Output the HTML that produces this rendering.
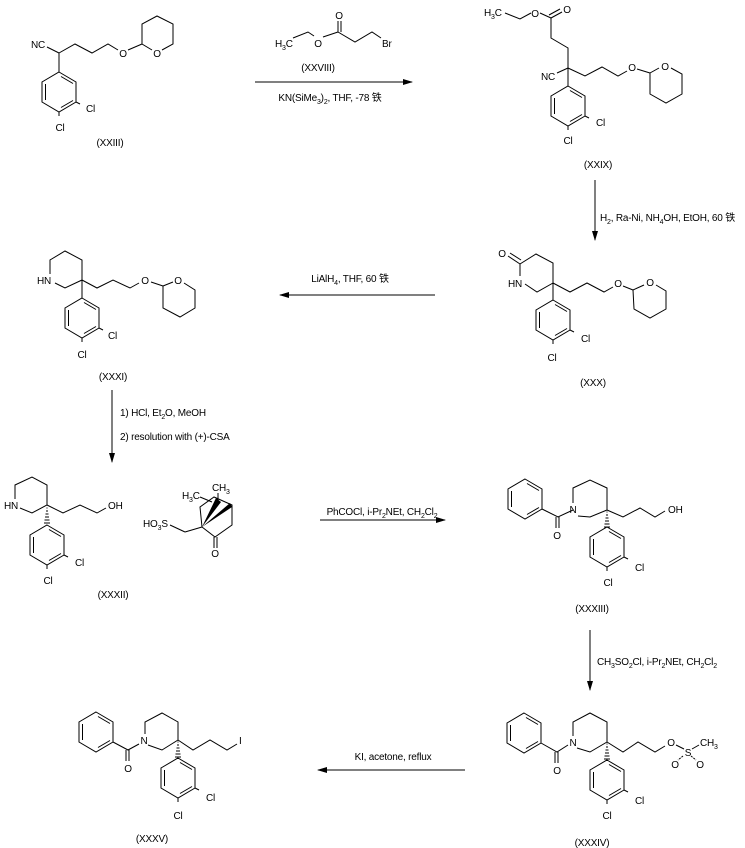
<!DOCTYPE html>
<html><head><meta charset="utf-8"><style>
html,body{margin:0;padding:0;background:#fff;}
svg{display:block;}
text{font-family:"Liberation Sans","Noto Sans CJK SC",sans-serif;font-size:10px;letter-spacing:-0.2px;fill:#000;}
.m{text-anchor:middle;}
.s{font-size:7px;}
</style></head><body>
<svg width="745" height="848" viewBox="0 0 745 848" xmlns="http://www.w3.org/2000/svg">
<defs>
<g id="ar" fill="none" stroke="#000" stroke-width="1">
<polygon points="0,0 17,10 17,30 0,40 -17,30 -17,10"/>
<line x1="-13.5" y1="12" x2="-13.5" y2="28"/>
<line x1="2" y1="4.5" x2="14" y2="11.5"/>
<line x1="14" y1="28.5" x2="2" y2="35.5"/>
</g>
<g id="arcl" fill="none" stroke="#000" stroke-width="1">
<use href="#ar"/>
<line x1="17" y1="30" x2="21" y2="32"/>
<line x1="0" y1="40" x2="0" y2="44"/>
</g>
<g id="hw" stroke="#000" stroke-width="1">
<line x1="-0.5" y1="2" x2="0.5" y2="2"/><line x1="-1" y1="5" x2="1" y2="5"/><line x1="-1.5" y1="8" x2="1.5" y2="8"/><line x1="-2" y1="11" x2="2" y2="11"/><line x1="-2.5" y1="14" x2="2.5" y2="14"/><line x1="-3" y1="17" x2="3" y2="17"/>
</g>
<marker id="ah" markerWidth="10" markerHeight="6" refX="9" refY="3" orient="auto" markerUnits="userSpaceOnUse"><path d="M0,0 L10,3 L0,6 Z" fill="#000"/></marker>
</defs>
<g fill="none" stroke="#000" stroke-width="1">
<!-- XXIII -->
<line x1="47" y1="47" x2="59" y2="53"/>
<polyline points="59,53 75,44 92,53 108,44 118,50"/>
<line x1="128" y1="50" x2="142" y2="44"/>
<polyline points="152,50 142,44 142,24 157,16 173,24 173,44 162,50"/>
<line x1="59" y1="53" x2="59" y2="72"/>
<use href="#arcl" x="59" y="72"/>
<!-- XXVIII -->
<polyline points="293,38 308,32 314,36"/>
<line x1="323" y1="37" x2="338" y2="32"/>
<line x1="338" y1="32" x2="338" y2="21"/><line x1="341" y1="32" x2="341" y2="21"/>
<polyline points="338,32 355,42 372,32 381,38"/>
<line x1="255" y1="82" x2="412" y2="82" marker-end="url(#ah)"/>
<!-- XXIX -->
<polyline points="505,13 520,19 531,13"/>
<line x1="540" y1="13" x2="551" y2="18"/>
<line x1="551" y1="18" x2="562" y2="12"/><line x1="549" y1="15" x2="560" y2="9"/>
<polyline points="551,18 551,38 568,48 568,68"/>
<line x1="568" y1="68" x2="557" y2="73"/>
<polyline points="568,68 585,76 602,67 618,76 627,71"/>
<line x1="637" y1="69" x2="650" y2="73"/>
<polyline points="659,68 650,73 650,94 666,103 682,94 682,74 671,68"/>
<line x1="568" y1="68" x2="568" y2="86"/>
<use href="#arcl" x="568" y="86"/>
<line x1="595" y1="180" x2="595" y2="240" marker-end="url(#ah)"/>
<!-- XXX -->
<line x1="508" y1="256" x2="520" y2="264"/><line x1="510" y1="253" x2="521" y2="260"/>
<polyline points="520,276 520,264 536,254 553,263 553,283 537,292 525,284"/>
<polyline points="553,283 570,292 587,283 604,292 613,287"/>
<line x1="623" y1="286" x2="633" y2="290"/>
<polyline points="644,285 633,290 634,309 650,318 666,309 666,291 656,285"/>
<line x1="553" y1="283" x2="553" y2="300"/>
<use href="#arcl" x="553" y="300"/>
<line x1="435" y1="295" x2="280" y2="295" marker-end="url(#ah)"/>
<!-- XXXI -->
<polyline points="55,283 65,288 82,280 82,260 65,251 50,260 50,274"/>
<polyline points="82,280 97,288 113,280 130,288 139,283"/>
<line x1="151" y1="282" x2="163" y2="286"/>
<polyline points="173,282 163,286 163,308 180,317 195,308 195,290 184,283"/>
<line x1="82" y1="280" x2="82" y2="298"/>
<use href="#arcl" x="82" y="298"/>
<line x1="112" y1="390" x2="112" y2="462" marker-end="url(#ah)"/>
<!-- XXXII -->
<polyline points="20,508 32,513 47,505 47,485 32,477 15,485 15,499"/>
<polyline points="47,505 63,513 80,505 97,513 106,508"/>
<use href="#hw" x="47" y="506"/>
<use href="#arcl" x="47" y="525"/>
<!-- CSA -->
<line x1="170" y1="525" x2="185" y2="532"/>
<line x1="185" y1="532" x2="202" y2="527"/>
<polyline points="202,527 215,537 232,525 232,505 214,497 200,507 202,527"/>
<line x1="214" y1="537" x2="214" y2="548"/><line x1="217" y1="537" x2="217" y2="548"/>
<line x1="200" y1="497" x2="212" y2="502"/>
<line x1="218" y1="502" x2="218" y2="493"/>
<line x1="320" y1="520" x2="445" y2="520" marker-end="url(#ah)"/>
<!-- XXXIII -->
<use href="#ar" x="525" y="479"/>
<polyline points="542,509 558,517 573,510"/>
<line x1="556" y1="517" x2="556" y2="528"/><line x1="559" y1="517" x2="559" y2="528"/>
<polyline points="578,516 590,517 607,510 607,488 590,480 573,488 573,503"/>
<polyline points="607,510 623,517 640,508 655,517 665,511"/>
<use href="#hw" x="607" y="510"/>
<use href="#arcl" x="607" y="527"/>
<line x1="590" y1="630" x2="590" y2="690" marker-end="url(#ah)"/>
<!-- XXXIV -->
<use href="#ar" x="524" y="713"/>
<polyline points="541,743 557,752 568,745"/>
<line x1="555" y1="752" x2="555" y2="763"/><line x1="558" y1="752" x2="558" y2="763"/>
<polyline points="577,748 590,752 607,742 607,722 590,713 573,722 573,736"/>
<polyline points="607,742 623,752 638,742 655,752 665,746"/>
<use href="#hw" x="607" y="742"/>
<use href="#arcl" x="607" y="760"/>
<line x1="676" y1="745" x2="684" y2="749"/>
<line x1="692" y1="749" x2="699" y2="745"/>
<line x1="683" y1="756" x2="678" y2="760" stroke-dasharray="2,1"/>
<line x1="691" y1="756" x2="696" y2="760" stroke-dasharray="2,1"/>
<line x1="465" y1="770" x2="318" y2="770" marker-end="url(#ah)"/>
<!-- XXXV -->
<use href="#ar" x="96" y="712"/>
<polyline points="113,742 128,750 139,744"/>
<line x1="126" y1="750" x2="126" y2="761"/><line x1="129" y1="750" x2="129" y2="761"/>
<polyline points="148,745 162,750 178,740 178,722 162,713 145,722 145,734"/>
<polyline points="178,740 193,750 210,740 227,750 237,744"/>
<use href="#hw" x="178" y="740"/>
<use href="#arcl" x="178" y="758"/>
</g>
<path d="M202,527 L216,498 L221,502 Z" fill="#000"/>
<path d="M202,527 L230,503 L232,507 Z" fill="#000"/>

<text x="31" y="48">NC</text>
<text class="m" x="123" y="57">O</text>
<text class="m" x="157" y="57">O</text>
<text x="86" y="112">Cl</text>
<text class="m" x="60" y="131">Cl</text>
<text class="m" x="110" y="146">(XXIII)</text>

<text x="275" y="47">H<tspan class="s" dy="3">3</tspan><tspan dy="-3">C</tspan></text>
<text class="m" x="318" y="47">O</text>
<text class="m" x="339" y="19">O</text>
<text x="382" y="47">Br</text>
<text class="m" x="318" y="71">(XXVIII)</text>
<text class="m" x="330" y="101">KN(SiMe<tspan class="s" dy="3">3</tspan><tspan dy="-3">)</tspan><tspan class="s" dy="3">2</tspan><tspan dy="-3">, THF, -78 铁</tspan></text>

<text x="484" y="16">H<tspan class="s" dy="3">3</tspan><tspan dy="-3">C</tspan></text>
<text class="m" x="535" y="17">O</text>
<text class="m" x="567" y="13">O</text>
<text x="541" y="80">NC</text>
<text class="m" x="632" y="71">O</text>
<text class="m" x="665" y="70">O</text>
<text x="596" y="126">Cl</text>
<text class="m" x="568" y="144">Cl</text>
<text class="m" x="598" y="168">(XXIX)</text>
<text x="600" y="221">H<tspan class="s" dy="3">2</tspan><tspan dy="-3">, Ra-Ni, NH</tspan><tspan class="s" dy="3">4</tspan><tspan dy="-3">OH, EtOH, 60 铁</tspan></text>

<text class="m" x="502" y="257">O</text>
<text x="508" y="287">HN</text>
<text class="m" x="618" y="287">O</text>
<text class="m" x="650" y="286">O</text>
<text x="581" y="342">Cl</text>
<text class="m" x="552" y="361">Cl</text>
<text class="m" x="593" y="386">(XXX)</text>
<text class="m" x="350" y="282">LiAlH<tspan class="s" dy="3">4</tspan><tspan dy="-3">, THF, 60 铁</tspan></text>

<text x="37" y="284">HN</text>
<text class="m" x="145" y="284">O</text>
<text class="m" x="178" y="284">O</text>
<text x="108" y="339">Cl</text>
<text class="m" x="82" y="358">Cl</text>
<text class="m" x="113" y="380">(XXXI)</text>
<text x="120" y="416">1) HCl, Et<tspan class="s" dy="3">2</tspan><tspan dy="-3">O, MeOH</tspan></text>
<text x="120" y="440">2) resolution with (+)-CSA</text>

<text x="4" y="509">HN</text>
<text x="108" y="509">OH</text>
<text x="75" y="566">Cl</text>
<text class="m" x="48" y="584">Cl</text>
<text class="m" x="113" y="598">(XXXII)</text>
<text x="182" y="499">H<tspan class="s" dy="3">3</tspan><tspan dy="-3">C</tspan></text>
<text x="212" y="491">CH<tspan class="s" dy="3">3</tspan></text>
<text x="143" y="527">HO<tspan class="s" dy="3">3</tspan><tspan dy="-3">S</tspan></text>
<text class="m" x="215" y="557">O</text>
<text class="m" x="382" y="515">PhCOCl, i-Pr<tspan class="s" dy="3">2</tspan><tspan dy="-3">NEt, CH</tspan><tspan class="s" dy="3">2</tspan><tspan dy="-3">Cl</tspan><tspan class="s" dy="3">2</tspan></text>

<text class="m" x="557" y="539">O</text>
<text class="m" x="573" y="513">N</text>
<text x="668" y="513">OH</text>
<text x="635" y="571">Cl</text>
<text class="m" x="608" y="586">Cl</text>
<text class="m" x="592" y="612">(XXXIII)</text>
<text x="597" y="665">CH<tspan class="s" dy="3">3</tspan><tspan dy="-3">SO</tspan><tspan class="s" dy="3">2</tspan><tspan dy="-3">Cl, i-Pr</tspan><tspan class="s" dy="3">2</tspan><tspan dy="-3">NEt, CH</tspan><tspan class="s" dy="3">2</tspan><tspan dy="-3">Cl</tspan><tspan class="s" dy="3">2</tspan></text>

<text class="m" x="557" y="774">O</text>
<text class="m" x="573" y="746">N</text>
<text class="m" x="671" y="746">O</text>
<text class="m" x="688" y="756">S</text>
<text x="700" y="746">CH<tspan class="s" dy="3">3</tspan></text>
<text class="m" x="675" y="768">O</text>
<text class="m" x="700" y="768">O</text>
<text x="635" y="804">Cl</text>
<text class="m" x="607" y="819">Cl</text>
<text class="m" x="592" y="846">(XXXIV)</text>
<text class="m" x="393" y="760">KI, acetone, reflux</text>

<text class="m" x="128" y="772">O</text>
<text class="m" x="144" y="744">N</text>
<text x="239" y="744">I</text>
<text x="206" y="801">Cl</text>
<text class="m" x="178" y="819">Cl</text>
<text class="m" x="152" y="842">(XXXV)</text>
</svg>
</body></html>
